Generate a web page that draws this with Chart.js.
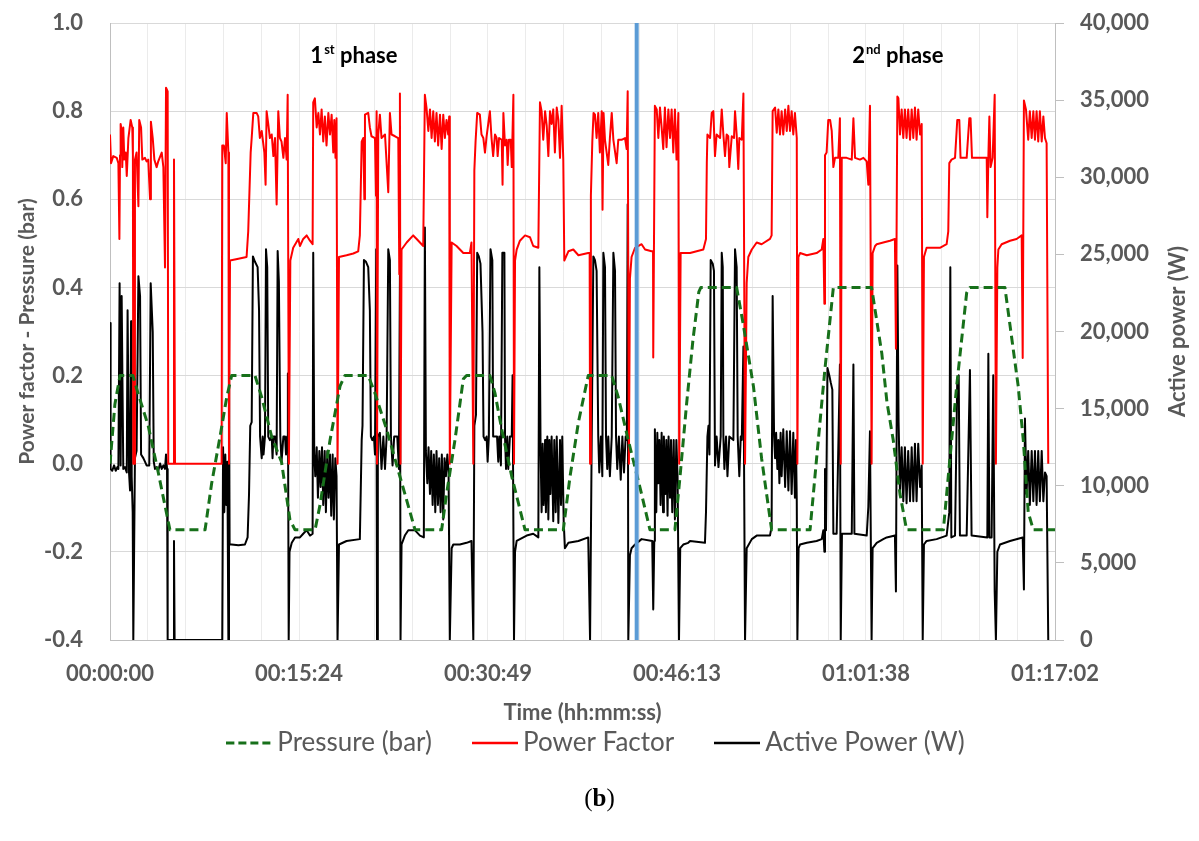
<!DOCTYPE html>
<html><head><meta charset="utf-8">
<script src="https://cdn.jsdelivr.net/npm/chart.js@4.4.1/dist/chart.umd.min.js"></script>
<style>
html,body{margin:0;padding:0;background:#fff;}
#wrap{position:relative;width:1199px;height:841px;}
#caption{position:absolute;left:0;width:1199px;top:784px;text-align:center;font-family:'Liberation Serif','DejaVu Serif',serif;font-size:25px;color:#000;}
</style></head><body>
<div id="wrap"><canvas id="c" width="1199" height="841"></canvas><div id="caption">(<b>b</b>)</div></div>
<script>
// ---- DATA ----
const xTickLabels = ['00:00:00','00:15:24','00:30:49','00:46:13','01:01:38','01:17:02'];
const xMaxSeconds = 4622;
const xGridDivisions = 25;
const phaseMarkerTime = 2576;
const phaseLabels = [
  {t: 980, num: '1', sup: 'st', text: ' phase'},
  {t: 3630, num: '2', sup: 'nd', text: ' phase'}
];

const pressure = [[0,0],[24,0.135],[49,0.2],[112,0.2],[137,0.16],[187,0.086],[236,-0.02],[293,-0.15],[465,-0.15],[497,-0.045],[538,0.061],[571,0.151],[595,0.2],[709,0.2],[742,0.151],[791,0.061],[839,0.004],[880,-0.127],[905,-0.15],[1003,-0.15],[1027,-0.094],[1076,0.053],[1125,0.176],[1149,0.2],[1263,0.2],[1296,0.16],[1353,0.078],[1418,-0.029],[1492,-0.15],[1622,-0.15],[1646,-0.069],[1687,0.053],[1728,0.192],[1744,0.2],[1858,0.2],[1883,0.16],[1916,0.078],[1965,-0.029],[2030,-0.15],[2217,-0.15],[2250,-0.029],[2291,0.094],[2339,0.2],[2454,0.2],[2486,0.151],[2535,0.053],[2600,-0.069],[2641,-0.15],[2763,-0.15],[2788,-0.029],[2820,0.135],[2851,0.28],[2880,0.39],[2890,0.4],[3065,0.4],[3098,0.314],[3147,0.176],[3187,0.012],[3236,-0.15],[3424,-0.15],[3456,0.012],[3497,0.216],[3538,0.4],[3725,0.4],[3745,0.34],[3775,0.25],[3800,0.14],[3831,0.053],[3864,-0.069],[3896,-0.15],[4076,-0.15],[4100,-0.029],[4141,0.176],[4190,0.388],[4206,0.4],[4377,0.4],[4402,0.314],[4442,0.176],[4467,0.053],[4491,-0.11],[4516,-0.15],[4622,-0.15]];

const powerFactor = [[0,0.747],[5,0.682],[16,0.698],[33,0.694],[41,0.682],[46,0.51],[49,0.70],[52,0.771],[57,0.755],[60,0.673],[65,0.763],[70,0.690],[77,0.706],[82,0.653],[90,0.739],[101,0.780],[109,0.763],[112,0.70],[114,0],[119,0],[122,0.690],[130,0.706],[139,0.584],[143,0.780],[152,0.763],[158,0.690],[171,0.694],[179,0.686],[187,0.690],[196,0.600],[200,0.776],[209,0.739],[217,0.690],[228,0.673],[236,0.686],[253,0.706],[261,0.673],[269,0.445],[274,0.853],[282,0.845],[285,0],[310,0],[313,0.69],[318,0],[546,0],[549,0.722],[557,0.722],[566,0.682],[571,0.796],[579,0.706],[582,0],[587,0.461],[628,0.465],[668,0.469],[676,0.527],[688,0.706],[693,0.739],[701,0.796],[717,0.796],[725,0.788],[733,0.739],[742,0.755],[755,0.706],[761,0.633],[766,0.80],[774,0.771],[782,0.739],[791,0.747],[799,0.698],[807,0.739],[815,0.588],[823,0.80],[831,0.739],[839,0.731],[848,0.694],[856,0.739],[864,0.690],[869,0.837],[875,0],[882,0.461],[896,0.49],[921,0.51],
[929,0.494],[945,0.51],[962,0.518],[978,0.506],[991,0.498],[994,0.82],[1002,0.829],[1011,0.763],[1019,0.796],[1027,0.747],[1035,0.804],[1043,0.731],[1051,0.788],[1059,0.722],[1068,0.796],[1076,0.747],[1084,0.792],[1092,0.706],[1097,0.780],[1103,0.694],[1108,0.784],[1113,0],[1120,0.469],[1157,0.473],[1190,0.477],[1214,0.482],[1222,0.518],[1231,0.731],[1239,0.739],[1244,0.60],[1247,0.792],[1263,0.796],[1271,0.763],[1279,0.743],[1296,0.739],[1301,0.608],[1304,0.80],[1306,0],[1309,0],[1312,0.747],[1320,0.792],[1328,0.739],[1345,0.747],[1361,0.616],[1369,0.796],[1377,0.747],[1394,0.743],[1410,0.739],[1415,0.43],[1418,0.84],[1421,0],[1426,0.486],[1451,0.502],[1483,0.518],[1500,0.51],[1532,0.494],[1540,0.837],[1548,0.808],[1557,0.755],[1565,0.804],[1573,0.739],[1581,0.80],[1589,0.731],[1597,0.796],[1605,0.722],[1614,0.792],[1622,0.714],[1630,0.792],[1638,0.739],[1646,0.780],[1654,0.747],[1659,0.788],[1662,0],[1671,0.502],[1695,0.494],[1728,0.478],[1760,0.478],[1768,0.502],[1777,0],[1782,0.665],[1788,0.731],[1796,0.796],[1809,0.792],[1817,0.747],[1826,0.739],[1834,0.706],[1842,0.743],[1858,0.80],[1866,0.739],[1874,0.698],
[1883,0.747],[1891,0.739],[1896,0.698],[1903,0.739],[1916,0.735],[1920,0.633],[1924,0.796],[1932,0.722],[1940,0.735],[1945,0.678],[1951,0.735],[1960,0.735],[1965,0.673],[1973,0.837],[1976,0],[1981,0.461],[1989,0.486],[2005,0.506],[2030,0.518],[2054,0.514],[2070,0.494],[2095,0.49],[2103,0.82],[2111,0.80],[2119,0.735],[2128,0.80],[2136,0.767],[2144,0.698],[2152,0.80],[2160,0.771],[2168,0.804],[2176,0.706],[2185,0.808],[2193,0.78],[2201,0.694],[2209,0.812],[2217,0.69],[2222,0.461],[2242,0.482],[2266,0.486],[2291,0.473],[2339,0.478],[2346,0.478],[2348,0],[2352,0.608],[2359,0.731],[2365,0.796],[2372,0.792],[2380,0.739],[2388,0.796],[2396,0.706],[2405,0.80],[2409,0.576],[2414,0.796],[2421,0.735],[2437,0.678],[2445,0.739],[2454,0.796],[2462,0.735],[2478,0.682],[2486,0.735],[2502,0.735],[2519,0.739],[2527,0.714],[2532,0.845],[2538,0],[2543,0.42],[2551,0.469],[2568,0.49],[2600,0.498],[2617,0.486],[2649,0.482],[2656,0.482],[2657,0.241],[2665,0.812],[2674,0.804],[2682,0.739],[2690,0.808],[2698,0.763],[2706,0.714],[2714,0.808],[2722,0.718],[2731,0.804],[2739,0.739],[2747,0.804],[2755,0.706],[2763,0.804],[2771,0.69],[2780,0.796],[2784,0],[2791,0.478],
[2837,0.478],[2902,0.486],[2915,0.51],[2919,0.682],[2922,0.747],[2935,0.739],[2943,0.796],[2951,0.80],[2959,0.698],[2967,0.747],[2984,0.739],[2992,0.804],[3000,0.747],[3008,0.698],[3016,0.747],[3024,0.743],[3029,0.673],[3041,0.743],[3052,0.739],[3057,0.80],[3065,0.747],[3073,0.669],[3078,0.739],[3090,0.735],[3098,0.84],[3106,0],[3114,0.41],[3122,0.469],[3139,0.486],[3163,0.502],[3187,0.498],[3228,0.51],[3236,0.518],[3241,0.80],[3253,0.808],[3261,0.751],[3269,0.804],[3277,0.747],[3285,0.80],[3293,0.747],[3302,0.804],[3310,0.755],[3318,0.812],[3326,0.755],[3334,0.80],[3342,0.747],[3350,0.796],[3359,0.739],[3362,0],[3367,0.469],[3375,0.478],[3408,0.473],[3456,0.478],[3481,0.486],[3489,0.51],[3494,0.363],[3497,0.70],[3505,0.706],[3513,0.78],[3522,0.78],[3530,0.755],[3538,0.673],[3546,0.694],[3562,0.694],[3570,0.784],[3574,0],[3579,0.694],[3603,0.694],[3628,0.69],[3636,0.784],[3644,0.694],[3668,0.69],[3685,0.694],[3701,0.686],[3709,0.633],[3717,0.812],[3725,0],[3730,0.478],[3742,0.494],
[3750,0.498],[3782,0.502],[3815,0.506],[3839,0.51],[3844,0.261],[3851,0.833],[3856,0.829],[3864,0.747],[3872,0.804],[3880,0.739],[3888,0.804],[3896,0.739],[3904,0.804],[3913,0.735],[3921,0.804],[3929,0.739],[3937,0.808],[3945,0.735],[3953,0.804],[3962,0.747],[3970,0.771],[3975,0],[3981,0.469],[3994,0.49],[4059,0.49],[4092,0.498],[4100,0.527],[4105,0.682],[4116,0.69],[4133,0.694],[4144,0.78],[4154,0.78],[4160,0.694],[4190,0.694],[4203,0.784],[4209,0.784],[4216,0.694],[4288,0.694],[4291,0.559],[4296,0.694],[4301,0.788],[4307,0.673],[4317,0.694],[4327,0.837],[4333,0],[4340,0.445],[4345,0.486],[4361,0.498],[4402,0.506],[4434,0.51],[4459,0.518],[4464,0.24],[4470,0.824],[4480,0.804],[4491,0.735],[4499,0.80],[4508,0.739],[4516,0.80],[4524,0.735],[4532,0.80],[4540,0.731],[4548,0.80],[4557,0.731],[4565,0.788],[4573,0.739],[4581,0.727],[4589,0]];

const activePower = [[0,20550],[3,11090],[11,10970],[20,11320],[28,10970],[36,11210],[41,11090],[47,23120],[52,11320],[57,22300],[65,11090],[73,11210],[82,10860],[86,21370],[93,10860],[98,9690],[103,20660],[106,10620],[111,8290],[114,0],[117,0],[122,11790],[130,12260],[139,23580],[147,22300],[152,12030],[163,11790],[171,11560],[179,11320],[192,11320],[199,23120],[209,19960],[214,11560],[220,11090],[228,11210],[236,10970],[245,11440],[253,11090],[261,11320],[269,11090],[274,12030],[279,11090],[282,0],[310,0],[313,6420],[316,0],[549,0],[553,12490],[559,8290],[564,12030],[569,8760],[574,11560],[579,0],[582,18450],[585,6190],[595,6190],[628,6140],[660,6190],[673,6650],[680,9460],[686,13890],[693,14130],[699,24870],[709,24520],[722,24170],[729,21370],[734,13190],[742,11790],[747,13190],[751,12030],[758,13190],[763,25330],[769,24170],[774,13190],[782,12960],[791,13190],[795,11790],[799,13190],[807,13190],[815,12030],[820,25220],[826,23230],[833,13190],[839,11560],[848,13190],[856,13190],[861,12030],[866,13190],[870,17280],[874,0],[878,5720],[889,6300],[905,6650],
[929,6650],[945,6890],[962,7120],[978,6770],[991,6890],[994,25100],[999,12030],[1004,10620],[1011,12490],[1017,9220],[1024,12260],[1030,9920],[1037,12490],[1043,8760],[1050,12260],[1056,8290],[1063,12260],[1069,9220],[1076,12030],[1082,8060],[1089,12030],[1095,7820],[1102,11790],[1108,10620],[1113,0],[1120,6190],[1157,6420],[1222,6540],[1231,12960],[1235,13890],[1242,24630],[1252,24520],[1263,24170],[1271,21370],[1276,13190],[1283,12960],[1291,13190],[1296,12030],[1302,25330],[1306,0],[1310,13190],[1320,13430],[1328,11090],[1337,13190],[1345,11090],[1353,13190],[1361,25330],[1369,24630],[1374,13190],[1382,11320],[1390,13190],[1405,13190],[1413,11090],[1418,23700],[1421,0],[1426,6190],[1442,6770],[1459,7120],[1491,7120],[1516,6770],[1535,6650],[1540,26740],[1545,12260],[1552,10160],[1558,12490],[1565,9460],[1571,12260],[1578,8760],[1584,12030],[1591,8290],[1597,12260],[1604,8760],[1610,11790],[1617,8290],[1623,12030],[1630,7820],[1636,11790],[1643,10620],[1650,12030],[1656,10860],[1662,0],[1671,5950],[1679,6190],[1711,6190],[1744,6300],[1768,6420],[1777,0],[1782,13890],[1790,14590],[1796,25100],[1804,24870],[1812,24400],[1822,19960],[1827,13190],[1835,12960],[1842,13190],[1847,11560],[1853,13190],[1861,25330],[1870,24630],[1874,13190],
[1893,13190],[1899,11560],[1904,13190],[1912,11320],[1919,25100],[1929,25100],[1932,13190],[1937,11090],[1943,13190],[1948,11090],[1956,13190],[1965,13190],[1969,17160],[1976,0],[1981,5720],[1989,6420],[2038,6770],[2070,6890],[2095,6650],[2100,24170],[2106,12260],[2111,8290],[2116,12730],[2121,8760],[2128,12960],[2132,8290],[2139,13190],[2144,7820],[2149,12960],[2154,9460],[2160,13190],[2168,7700],[2173,12960],[2180,8290],[2185,13190],[2193,7590],[2201,12960],[2206,8760],[2212,13190],[2219,7700],[2225,5950],[2242,6300],[2291,6420],[2339,6650],[2348,0],[2356,12960],[2364,24870],[2372,24630],[2380,23930],[2388,13190],[2393,10860],[2401,13190],[2408,10620],[2413,25100],[2421,24170],[2426,13190],[2432,11090],[2437,13190],[2445,10620],[2454,13190],[2462,25100],[2470,23930],[2475,13190],[2481,11090],[2489,13190],[2498,10390],[2506,13190],[2514,10860],[2522,13190],[2528,12960],[2532,28250],[2535,0],[2543,5490],[2551,5950],[2568,6190],[2600,6540],[2652,6420],[2657,1985],[2662,6420],[2665,13660],[2672,8290],[2677,13430],[2682,10160],[2687,12960],[2693,8760],[2698,13430],[2705,8290],[2709,13190],[2716,9460],[2721,12960],[2727,8060],[2732,13190],[2739,9220],[2744,12960],[2750,8290],[2757,12960],[2763,7820],[2770,12960],[2776,10620],[2783,0],[2789,5950],[2804,6190],[2828,6300],
[2837,6420],[2910,6300],[2915,8290],[2922,13190],[2927,13890],[2932,12030],[2938,24630],[2948,24400],[2954,23930],[2959,11320],[2967,13190],[2976,11210],[2987,13190],[2992,25100],[2997,24170],[3000,13190],[3005,11090],[3013,13190],[3020,10620],[3029,13190],[3049,12960],[3057,25330],[3065,24170],[3070,13190],[3078,10620],[3085,13190],[3090,12960],[3098,19030],[3106,0],[3114,5950],[3139,6540],[3163,6770],[3228,6770],[3236,7360],[3241,22300],[3248,13190],[3253,11790],[3258,13430],[3264,11090],[3269,12960],[3274,10160],[3280,13430],[3285,10620],[3293,13660],[3302,9920],[3310,13540],[3318,9690],[3326,13540],[3334,9460],[3342,13430],[3350,9220],[3355,12960],[3359,8990],[3362,0],[3368,5950],[3375,6190],[3408,6300],[3456,6420],[3481,6540],[3489,7120],[3494,5720],[3497,11090],[3502,7120],[3509,17630],[3518,17160],[3525,16700],[3533,16230],[3538,6890],[3554,6890],[3570,17860],[3574,0],[3580,6890],[3628,6890],[3636,17860],[3641,6890],[3701,6770],[3709,8640],[3717,13540],[3725,0],[3730,5950],[3750,6300],[3782,6540],
[3799,6650],[3839,6770],[3844,3150],[3851,24280],[3857,14130],[3864,9460],[3872,12490],[3880,8990],[3888,12490],[3896,8870],[3904,12260],[3913,8990],[3921,12490],[3929,8990],[3937,12730],[3945,8990],[3953,12730],[3962,9920],[3970,11320],[3975,0],[3981,6190],[3994,6420],[4043,6540],[4092,6770],[4105,8290],[4110,24170],[4115,6650],[4133,6770],[4144,16930],[4151,17160],[4157,6770],[4190,6770],[4206,17510],[4214,6770],[4291,6650],[4296,18560],[4301,6650],[4312,6650],[4320,17160],[4327,3150],[4333,0],[4340,5720],[4353,6190],[4402,6420],[4464,6650],[4470,3270],[4475,14360],[4483,9460],[4491,12260],[4499,8760],[4508,12260],[4516,8990],[4524,12260],[4532,8760],[4540,12260],[4548,8990],[4557,12260],[4565,8990],[4573,10860],[4581,10620],[4589,0]];

// ---- CHART ----
const GREY = '#595959';
const FONT = 'Lato, "Open Sans", "DejaVu Sans", sans-serif';
const toXY = arr => arr.map(p => ({x: p[0], y: p[1]}));

function legendLine(color, width, dash) {
  const c = document.createElement('canvas');
  c.width = 46; c.height = 6;
  const g = c.getContext('2d');
  g.strokeStyle = color; g.lineWidth = width; g.setLineDash(dash);
  g.beginPath(); g.moveTo(0, 3); g.lineTo(46, 3); g.stroke();
  return c;
}

const overlay = {
  id: 'overlay',
  afterDraw(chart) {
    const {ctx, chartArea, scales} = chart;
    ctx.save();
    ctx.fillStyle = GREY;
    ctx.font = 'bold 22px ' + FONT;
    ctx.textAlign = 'center';
    ctx.textBaseline = 'middle';
    ctx.translate(1178, (chartArea.top + chartArea.bottom) / 2);
    ctx.rotate(-Math.PI / 2);
    ctx.fillText('Active power (W)', 0, 0);
    ctx.restore();

    ctx.save();
    ctx.fillStyle = '#000';
    ctx.textBaseline = 'alphabetic';
    ctx.textAlign = 'left';
    phaseLabels.forEach(p => {
      let x = scales.x.getPixelForValue(p.t);
      const y = chartArea.top + 40;
      ctx.font = 'bold 22px ' + FONT;
      ctx.fillText(p.num, x, y);
      x += ctx.measureText(p.num).width + 1;
      ctx.font = 'bold 13px ' + FONT;
      ctx.fillText(p.sup, x, y - 9);
      x += ctx.measureText(p.sup).width;
      ctx.font = 'bold 22px ' + FONT;
      ctx.fillText(p.text, x, y);
    });
    ctx.restore();
  }
};

const tickFont = {family: FONT, size: 22, weight: 'bold'};
const titleFont = {family: FONT, size: 22, weight: 'bold'};

const datasets = [
  {label: 'Pressure (bar)', data: toXY(pressure), yAxisID: 'y', borderColor: '#17701a', backgroundColor: '#17701a', borderWidth: 3, borderDash: [9, 5], order: 1},
  {label: 'Power Factor', data: toXY(powerFactor), yAxisID: 'y', borderColor: '#ff0000', backgroundColor: '#ff0000', borderWidth: 2, order: 2},
  {label: 'Active Power (W)', data: toXY(activePower), yAxisID: 'y2', borderColor: '#000000', backgroundColor: '#000000', borderWidth: 2, order: 3},
  {label: 'marker', data: [{x: phaseMarkerTime, y: -0.4}, {x: phaseMarkerTime, y: 1.0}], yAxisID: 'y', borderColor: '#5b9bd5', borderWidth: 4, order: 0}
];
const legendImages = {
  'Pressure (bar)': legendLine('#17701a', 3, [8, 4]),
  'Power Factor': legendLine('#ff0000', 2.5, []),
  'Active Power (W)': legendLine('#000000', 2.5, [])
};

new Chart(document.getElementById('c'), {
  type: 'line',
  data: {datasets},
  options: {
    responsive: false,
    animation: false,
    devicePixelRatio: 1,
    elements: {point: {radius: 0}, line: {tension: 0, borderJoinStyle: 'round'}},
    layout: {padding: {top: 23, left: 0, right: 0, bottom: 75}},
    plugins: {
      tooltip: {enabled: false},
      legend: {
        position: 'bottom',
        labels: {
          usePointStyle: true, pointStyleWidth: 30,
          padding: 48, color: GREY, font: {family: FONT, size: 26},
          generateLabels: chart => Chart.defaults.plugins.legend.labels.generateLabels(chart)
            .filter(item => legendImages[item.text])
            .map(item => Object.assign(item, {pointStyle: legendImages[item.text]}))
        }
      }
    },
    scales: {
      x: {
        type: 'linear', min: 0, max: xMaxSeconds,
        afterBuildTicks: s => {
          const t = [];
          for (let i = 0; i <= xGridDivisions; i++) t.push({value: i * xMaxSeconds / xGridDivisions});
          s.ticks = t;
        },
        ticks: {autoSkip: false, maxRotation: 0, padding: 21, color: GREY, font: tickFont,
          callback: (v, i) => (i % 5 === 0 ? xTickLabels[i / 5] : '')},
        grid: {color: '#ebebeb', lineWidth: 1, drawTicks: false},
        border: {color: '#bfbfbf', width: 1},
        title: {display: true, text: 'Time (hh:mm:ss)', color: GREY, font: titleFont, padding: {top: 0, bottom: -44}},
        afterFit: s => { s.height = 42; }
      },
      y: {
        position: 'left', min: -0.4, max: 1.0,
        ticks: {stepSize: 0.2, padding: 27, color: GREY, font: tickFont,
          callback: v => (Math.abs(v) < 1e-9 ? 0 : v).toFixed(1)},
        grid: {color: '#d9d9d9', lineWidth: 1, drawTicks: false},
        border: {color: '#bfbfbf', width: 1},
        title: {display: true, text: 'Power factor - Pressure (bar)', color: GREY, font: {family: FONT, size: 21, weight: 'bold'}, padding: {top: 15, bottom: 0}},
        afterFit: s => { s.width = 110; s.paddingTop = 0; s.paddingBottom = 0; }
      },
      y2: {
        position: 'right', min: 0, max: 40000,
        ticks: {stepSize: 5000, padding: 16, color: GREY, font: tickFont, callback: v => v.toLocaleString('en-US')},
        grid: {drawOnChartArea: false, drawTicks: true, tickLength: 9, tickColor: '#bfbfbf', color: '#bfbfbf'},
        border: {color: '#bfbfbf', width: 1},
        afterFit: s => { s.width = 144; s.paddingTop = 0; s.paddingBottom = 0; }
      }
    }
  },
  plugins: [overlay]
});
</script>
</body></html>
